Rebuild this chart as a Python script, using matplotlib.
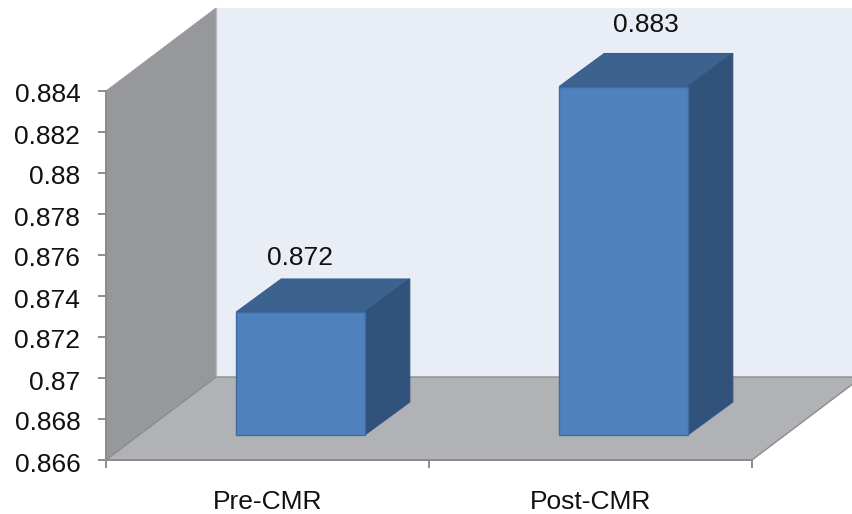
import matplotlib
matplotlib.use("Agg")
import matplotlib.pyplot as plt
from matplotlib.patches import Polygon
from matplotlib.transforms import Affine2D

plt.rcParams['font.family'] = ['Liberation Sans', 'DejaVu Sans']

categories = ["Pre-CMR", "Post-CMR"]
values = [0.872, 0.883]
value_labels = ["0.872", "0.883"]
yticks = [0.866, 0.868, 0.87, 0.872, 0.874, 0.876, 0.878, 0.88, 0.882, 0.884]
ytick_labels = ["0.866", "0.868", "0.87", "0.872", "0.874", "0.876", "0.878", "0.88", "0.882", "0.884"]

W, H = 852, 514
fig = plt.figure(figsize=(W / 100, H / 100), dpi=100, facecolor="white")
L, R, T, B = 106, 752, 91, 460
ax = fig.add_axes([L / W, 1 - B / H, (R - L) / W, (B - T) / H])
ax.set_xlim(-0.5, 1.5)
ax.set_ylim(yticks[0], yticks[-1])
ax.patch.set_alpha(0)

GREY = "#8A8C8E"
ymin, ymax = ax.get_ylim()
xmin, xmax = ax.get_xlim()
wall_d = (110, 83)     # chart depth in pixels
bar_front = (33, 25)   # bar front-plane offset from the chart front
bar_d = (45, 33)       # bar depth in pixels


def px(x, y, d=(0, 0)):
    a, b = ax.transData.transform((x, y))
    return (a + d[0], b + d[1])


def face(points, color, edge=None, lw=0.0, z=1):
    ax.add_patch(Polygon(points, closed=True, transform=None, facecolor=color,
                         edgecolor=edge if edge else color, linewidth=lw,
                         zorder=z, clip_on=False))


# back wall, side wall, floor
face([px(xmin, ymin, wall_d), px(xmax, ymin, wall_d), px(xmax, ymax, wall_d), px(xmin, ymax, wall_d)],
     "#E9EDF6", z=1)
face([px(xmin, ymin), px(xmin, ymin, wall_d), px(xmin, ymax, wall_d), px(xmin, ymax)],
     "#96989B", edge="#96989B", lw=0.6, z=2)
ax.plot(*zip(px(xmin, ymin, wall_d), px(xmin, ymax, wall_d)), transform=None, color="#B8BABD",
        lw=1.0, zorder=2, clip_on=False)
ax.set_xlim(-0.5, 1.5)
ax.set_ylim(yticks[0], yticks[-1])
face([px(xmin, ymin), px(xmax, ymin), px(xmax, ymin, wall_d), px(xmin, ymin, wall_d)],
     "#B0B2B6", edge=GREY, lw=1.0, z=2)

# bars
width = 0.398
front = Affine2D().translate(*bar_front)
ax.bar(range(len(values)), [v - ymin for v in values], bottom=ymin, width=width,
       color="#4F81BD", edgecolor="#3F6C9F", linewidth=1.0, zorder=5,
       transform=ax.transData + front, clip_on=False)
back_off = (bar_front[0] + bar_d[0], bar_front[1] + bar_d[1])
for i, v in enumerate(values):
    x0, x1 = i - width / 2, i + width / 2
    face([px(x0, v, bar_front), px(x1, v, bar_front), px(x1, v, back_off), px(x0, v, back_off)],
         "#3C6290", edge="#3A5F8C", lw=0.8, z=4)
    face([px(x1, ymin, bar_front), px(x1, v, bar_front), px(x1, v, back_off), px(x1, ymin, back_off)],
         "#31527B", edge="#31527B", lw=0.8, z=4)

# data labels, offset in pixels from the top of each bar's front face
label_off = [(0, 54), (22, 61)]
for i, (v, s) in enumerate(zip(values, value_labels)):
    a, b = px(i, v, bar_front)
    ax.text(a + label_off[i][0], b + label_off[i][1], s, transform=None,
            ha="center", va="center", fontsize=19, color="#111111", zorder=6, clip_on=False)

# axes
for s in ("top", "right"):
    ax.spines[s].set_visible(False)
for s in ("left", "bottom"):
    ax.spines[s].set_color(GREY)
    ax.spines[s].set_linewidth(1.4)
    ax.spines[s].set_zorder(7)
ax.set_yticks(yticks)
ax.set_yticklabels(ytick_labels)
ax.set_xticks([-0.5, 0.5, 1.5])
ax.set_xticklabels([])
ax.set_xticks([0, 1], labels=categories, minor=True)
ax.tick_params(axis="y", length=6, width=1.4, color=GREY, pad=12.5, labelsize=19, labelcolor="#111111")
ax.tick_params(axis="x", which="major", length=6, width=1.4, color=GREY)
ax.tick_params(axis="x", which="minor", length=0, pad=21.5, labelsize=19, labelcolor="#111111")
for lab in ax.get_yticklabels():
    lab.set_transform(lab.get_transform() + Affine2D().translate(0, -2))

fig.savefig("out.png", dpi=100)
